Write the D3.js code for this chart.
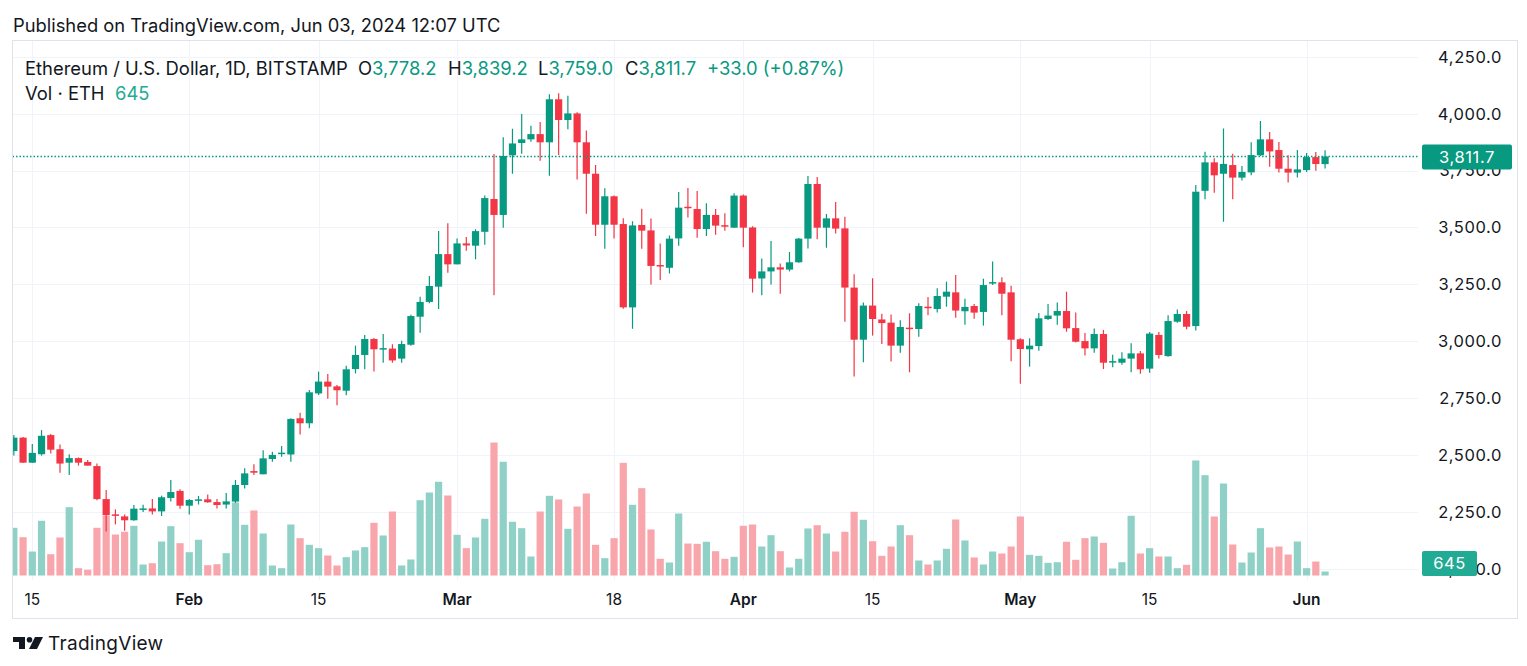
<!DOCTYPE html>
<html><head><meta charset="utf-8">
<script src="https://cdn.jsdelivr.net/npm/d3@7"></script>
<style>
html,body{margin:0;padding:0;background:#fff;overflow:hidden;}
svg{display:block;}
text{font-family: Inter, Roboto, "Noto Sans", sans-serif;}
</style></head><body>
<svg id="c" width="1527" height="666"></svg>
<script>
// ---- DATA (ETH/USD daily, Bitstamp, 2024-01-13 .. 2024-06-03) ----
const firstDay = "2024-01-13";
const lastDay = "2024-06-03";
const opens = [2518,2577,2467,2504,2588,2526,2467,2487,2470,2452,2307,2240,2231,2214,2263,2266,2253,2312,2343,
2278,2300,2306,2294,2283,2296,2369,2430,2416,2483,2505,2503,2662,2640,2771,2823,2802,2783,2878,2940,3010,2966,2968,2924,2985,3108,3173,3240,3383,
3338,3430,3420,3481,3625,3555,3817,3871,3887,3910,3874,4063,3972,4001,3874,3736,3512,3637,3515,3149,3511,3487,3335,3323,3452,3591,3581,3493,3555,3510,3499,
3640,3500,3276,3307,3325,3315,3347,3451,3691,3499,3540,3496,3236,3007,3157,3096,3082,2981,3060,3054,3152,3142,3196,3215,3132,3155,3129,3256,3259,3215,
3009,2965,2979,3098,3113,3133,3058,3001,2969,3032,2909,2906,2924,2947,2880,3028,2935,3086,3120,3067,3661,3786,3736,3774,3719,3742,3817,3887,3840,3758,3741,
3752,3809,3778.2];
const highs = [2589,2580,2549,2610,2593,2547,2504,2490,2479,2463,2347,2262,2239,2281,2282,2307,2322,2391,2350,
2307,2321,2327,2307,2334,2391,2442,2460,2522,2515,2540,2662,2686,2786,2867,2856,2808,2893,2981,3028,3014,3032,2987,3003,3117,3196,3287,3484,3518,
3452,3458,3492,3640,3823,3896,3934,3998,3947,3963,4085,4089,4079,4006,3926,3774,3672,3640,3541,3527,3582,3539,3430,3465,3656,3673,3660,3606,3581,3562,3650,
3645,3505,3364,3441,3342,3392,3454,3726,3722,3559,3612,3547,3294,3170,3277,3121,3118,3092,3123,3167,3195,3233,3262,3291,3187,3164,3275,3350,3281,3244,
3013,3013,3124,3164,3170,3218,3126,3036,3056,3050,2941,2952,2991,2957,3041,3041,3115,3140,3133,3687,3833,3804,3935,3824,3770,3874,3968,3919,3875,3817,3840,
3827,3831,3839.2];
const lows = [2498,2465,2465,2498,2507,2423,2413,2454,2454,2302,2165,2196,2168,2212,2250,2239,2233,2297,2265,
2239,2283,2291,2266,2266,2290,2354,2413,2416,2471,2493,2471,2591,2618,2764,2748,2719,2763,2859,2877,2867,2906,2906,2906,2981,3038,3167,3142,3301,
3338,3398,3360,3424,3202,3499,3736,3824,3877,3793,3727,3818,3931,3711,3560,3462,3407,3451,3143,3055,3407,3249,3269,3298,3420,3544,3455,3463,3468,3486,3499,
3413,3214,3202,3249,3209,3307,3345,3408,3448,3411,3473,3086,2845,2908,3025,2988,2911,2950,2864,3020,3114,3127,3152,3104,3073,3099,3069,3247,3114,2912,
2814,2889,2959,3094,3073,3042,2995,2938,2950,2878,2886,2897,2864,2858,2862,2924,2932,3082,3053,3047,3624,3653,3525,3624,3706,3729,3814,3767,3741,3698,3719,
3744,3749,3759.0];
const closes = [2577,2467,2510,2585,2524,2463,2487,2467,2454,2307,2237,2237,2214,2265,2266,2253,2315,2338,2278,
2303,2306,2293,2281,2297,2369,2420,2423,2486,2501,2511,2659,2640,2776,2823,2801,2785,2877,2940,3010,2965,2970,2916,2988,3111,3173,3243,3383,3338,
3430,3421,3484,3629,3555,3814,3869,3887,3910,3874,4063,3972,4001,3874,3736,3512,3637,3512,3149,3509,3486,3331,3330,3451,3587,3587,3493,3555,3508,3506,3640,
3499,3275,3307,3325,3315,3347,3451,3691,3499,3540,3495,3236,3007,3157,3098,3080,2981,3063,3054,3155,3149,3199,3218,3135,3151,3126,3247,3260,3209,3007,
2966,2981,3101,3113,3133,3057,2998,2969,3032,2906,2913,2924,2947,2877,3034,2940,3089,3120,3064,3657,3786,3729,3779,3719,3744,3818,3887,3834,3758,3741,3755,
3809,3778.7,3811.7];
const volumes = [7680,6170,3860,8810,3430,6120,11000,1180,920,7680,9660,6600,7040,8000,1770,1980,5470,7940,5200,
3750,5750,1660,1820,3590,11750,8160,10470,6760,1610,1180,8210,6010,4940,4400,3220,1610,2950,4030,4560,8480,6440,10300,1610,2580,12120,13360,15090,12880,
6550,4400,6120,9130,21410,18310,8650,7620,3060,10300,12830,12240,7520,11110,13200,4940,2790,6010,18140,11380,14060,7410,2690,2090,9980,5150,5100,5430,3910,2690,3010,
8000,8210,4670,6490,3910,1290,2690,7570,8100,6760,3860,7040,10260,8970,5520,3170,4670,8100,6490,2420,1770,2420,4300,9020,5640,2900,1770,3860,3540,4670,
9500,3330,3170,2040,2140,5430,2530,6010,6280,5260,1130,2140,9610,3540,4400,3060,3060,1180,1720,18520,16150,9500,14810,4990,2090,3700,7620,4510,4670,3380,5470,
1180,2250,645];
const priceTicks = [2000,2250,2500,2750,3000,3250,3500,3750,4000,4250];
const timeTickDates = ["2024-01-15","2024-02-01","2024-02-15","2024-03-01","2024-03-18","2024-04-01","2024-04-15","2024-05-01","2024-05-15","2024-06-01"];
const timeTickLabels = ["15","Feb","15","Mar","18","Apr","15","May","15","Jun"];
const timeTickBold = [false,true,false,true,false,true,false,true,false,true];
const lastClose = 3811.7, lastVolume = 645;

// ---- LAYOUT ----
const W = 1527, H = 666;
const paneL = 12.5, paneR = 1418, paneT = 40.5, paneB = 580;
const GREEN = "#089981", RED = "#F23645", VGREEN = "#8fd1c6", VRED = "#f8a6ac", TXT = "#131722";

const parse = d3.utcParse("%Y-%m-%d");
const dates = d3.utcDays(parse(firstDay), d3.utcDay.offset(parse(lastDay), 1));
const data = dates.map((d, i) => ({date: d, o: opens[i], h: highs[i], l: lows[i], c: closes[i], v: volumes[i]}));

const x = d3.scaleUtc().domain([parse("2024-01-15"), parse("2024-06-01")]).range([32.3, 1306.6]);
const y = d3.scaleLinear().domain([2000, 4250]).range([569, 56.7]);
const yv = d3.scaleLinear().domain([0, 21410]).range([575.5, 442.5]);

const svg = d3.select("#c");
svg.append("rect").attr("width", W).attr("height", H).attr("fill", "#fff");

svg.append("defs").append("clipPath").attr("id", "clip")
  .append("rect").attr("x", paneL + 0.5).attr("y", paneT).attr("width", paneR - paneL).attr("height", paneB - paneT);

// grid
const grid = svg.append("g");
grid.selectAll(".hg").data(priceTicks).join("line")
  .attr("x1", paneL).attr("x2", paneR)
  .attr("y1", d => Math.round(y(d)) + 0.5).attr("y2", d => Math.round(y(d)) + 0.5)
  .attr("stroke", "#f0f3fa").attr("stroke-width", 1);
grid.selectAll(".vg").data(timeTickDates).join("line")
  .attr("x1", d => Math.round(x(parse(d))) + 0.5).attr("x2", d => Math.round(x(parse(d))) + 0.5)
  .attr("y1", paneT).attr("y2", paneB)
  .attr("stroke", "#f0f3fa").attr("stroke-width", 1);

const plot = svg.append("g").attr("clip-path", "url(#clip)");
const bw = 7.2;

// volume
plot.append("g").selectAll("rect").data(data).join("rect")
  .attr("x", d => x(d.date) - bw / 2).attr("width", bw)
  .attr("y", d => yv(d.v)).attr("height", d => yv(0) - yv(d.v))
  .attr("fill", d => d.c >= d.o ? VGREEN : VRED);

// candles
const cg = plot.append("g");
cg.selectAll("line").data(data).join("line")
  .attr("x1", d => x(d.date)).attr("x2", d => x(d.date))
  .attr("y1", d => y(d.h)).attr("y2", d => y(d.l))
  .attr("stroke", d => d.c >= d.o ? GREEN : RED).attr("stroke-width", 1.2);
cg.selectAll("rect").data(data).join("rect")
  .attr("x", d => x(d.date) - bw / 2).attr("width", bw)
  .attr("y", d => y(Math.max(d.o, d.c)))
  .attr("height", d => Math.max(1.5, Math.abs(y(d.o) - y(d.c))))
  .attr("fill", d => d.c >= d.o ? GREEN : RED);

// last price dotted line
svg.append("line").attr("x1", paneL).attr("x2", paneR)
  .attr("y1", Math.round(y(lastClose)) + 0.5).attr("y2", Math.round(y(lastClose)) + 0.5)
  .attr("stroke", GREEN).attr("stroke-width", 1.3).attr("stroke-dasharray", "1.5,2");

// price axis labels
svg.append("g").selectAll("text").data(priceTicks).join("text")
  .attr("x", 1502).attr("y", d => y(d)).attr("dy", "0.36em")
  .attr("text-anchor", "end").attr("font-size", 16.5).attr("letter-spacing", 0.6).attr("fill", TXT)
  .text(d => d3.format(",.1f")(d));

// last price box
const ly = y(lastClose);
svg.append("rect").attr("x", 1422).attr("y", ly - 12).attr("width", 90).attr("height", 25).attr("rx", 2).attr("fill", GREEN);
svg.append("text").attr("x", 1467).attr("y", ly + 0.5).attr("dy", "0.36em").attr("text-anchor", "middle")
  .attr("font-size", 16.5).attr("letter-spacing", 0.6).attr("fill", "#fff").text(d3.format(",.1f")(lastClose));

// volume box
svg.append("rect").attr("x", 1422).attr("y", 551).attr("width", 55).attr("height", 25).attr("rx", 2).attr("fill", "#22ab94");
svg.append("text").attr("x", 1449.5).attr("y", 563.5).attr("dy", "0.36em").attr("text-anchor", "middle")
  .attr("font-size", 16.5).attr("letter-spacing", 0.6).attr("fill", "#fff").text(lastVolume);

// time axis labels
svg.append("g").selectAll("text").data(timeTickDates).join("text")
  .attr("x", d => x(parse(d))).attr("y", 599).attr("dy", "0.36em")
  .attr("text-anchor", "middle").attr("font-size", 15.5).attr("fill", TXT)
  .attr("font-weight", (d, i) => timeTickBold[i] ? 600 : 400)
  .text((d, i) => timeTickLabels[i]);

// frame
svg.append("rect").attr("x", paneL).attr("y", paneT).attr("width", 1517.5 - paneL).attr("height", 618.5 - paneT)
  .attr("fill", "none").attr("stroke", "#e0e3eb").attr("stroke-width", 1);

// header
svg.append("text").attr("x", 13).attr("y", 25).attr("dy", "0.36em").attr("font-size", 18.35).attr("fill", TXT)
  .text("Published on TradingView.com, Jun 03, 2024 12:07 UTC");

const f1 = d3.format(",.1f");
const leg = svg.append("text").attr("x", 25).attr("y", 68).attr("dy", "0.36em").attr("font-size", 18.4).attr("fill", TXT);
leg.append("tspan").text("Ethereum / U.S. Dollar, 1D, BITSTAMP");
const lastBar = data[data.length - 1];
const prevClose = data[data.length - 2].c;
[["O", lastBar.o, 358], ["H", lastBar.h, 448], ["L", lastBar.l, 538], ["C", lastBar.c, 625]].forEach(([k, v, px]) => {
  leg.append("tspan").attr("x", px).attr("fill", TXT).text(k);
  leg.append("tspan").attr("fill", GREEN).text(f1(v));
});
const chg = lastBar.c - prevClose;
leg.append("tspan").attr("x", 707).attr("fill", GREEN)
  .text("+" + chg.toFixed(1) + " (+" + (chg / prevClose * 100).toFixed(2) + "%)");

const vl = svg.append("text").attr("x", 25).attr("y", 93).attr("dy", "0.36em").attr("font-size", 18.4).attr("fill", TXT);
vl.append("tspan").text("Vol · ETH");
vl.append("tspan").attr("x", 115).attr("fill", "#22ab94").text(lastVolume);

// TradingView logo
const logo = svg.append("g").attr("transform", "translate(13,637)").attr("fill", TXT);
logo.append("path").attr("d", "M0 0 H12 V12 H6 V5 H0 Z");
logo.append("circle").attr("cx", 16.5).attr("cy", 2.8).attr("r", 2.8);
logo.append("path").attr("d", "M22 0 H30 L24 12 H16 Z");
svg.append("text").attr("x", 48).attr("y", 643).attr("dy", "0.36em").attr("font-size", 19).attr("letter-spacing", 0.3).attr("fill", TXT)
  .text("TradingView");
</script>
</body></html>
